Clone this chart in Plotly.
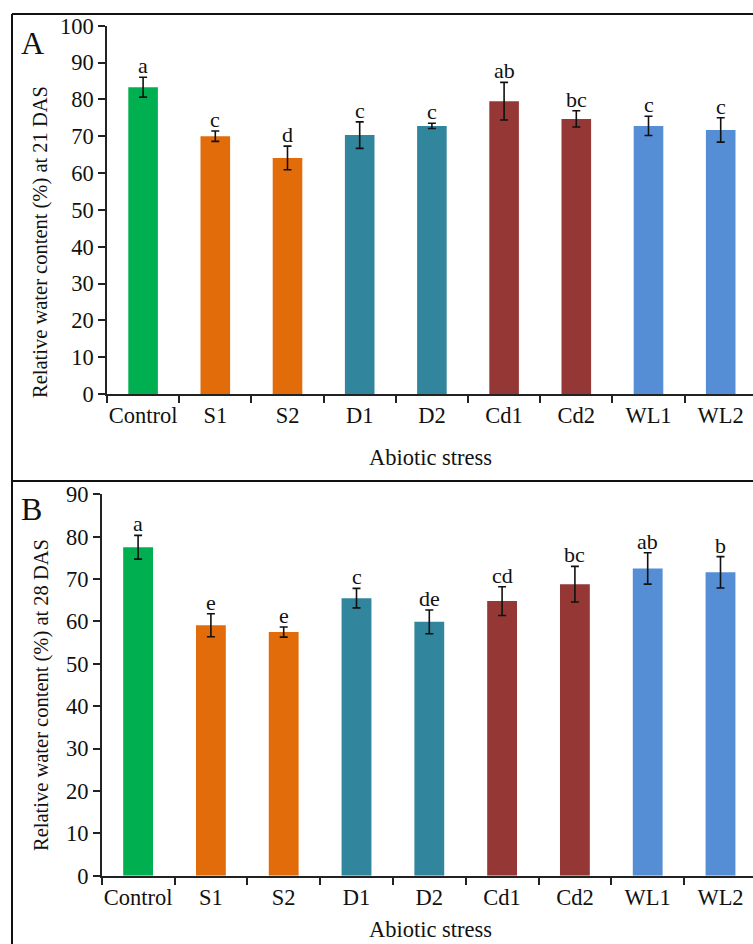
import plotly.graph_objects as go

# Treatments and their bar colours
treatments = ["Control", "S1", "S2", "D1", "D2", "Cd1", "Cd2", "WL1", "WL2"]
bar_colors = ["#00B050", "#E36C0A", "#E36C0A", "#31859C", "#31859C",
              "#953735", "#953735", "#558ED5", "#558ED5"]

# Relative water content at 21 DAS (mean, SE, significance letters)
rwc_21 = [83.3, 70.0, 64.1, 70.3, 72.8, 79.5, 74.7, 72.8, 71.7]
err_21 = [2.7, 1.4, 3.2, 3.6, 0.7, 5.1, 2.2, 2.6, 3.3]
sig_21 = ["a", "c", "d", "c", "c", "ab", "bc", "c", "c"]

# Relative water content at 28 DAS
rwc_28 = [77.5, 59.1, 57.5, 65.5, 59.9, 64.8, 68.8, 72.5, 71.6]
err_28 = [2.8, 2.7, 1.2, 2.3, 2.8, 3.4, 4.2, 3.7, 3.7]
sig_28 = ["a", "e", "e", "c", "de", "cd", "bc", "ab", "b"]

W, H = 753, 944
FONT = "Liberation Serif"
INK = "#111111"


def px_x(p):
    return p / W


def px_y(p):
    return 1 - p / H


fig = go.Figure()

panels = [
    dict(vals=rwc_21, errs=err_21, sig=sig_21, xa="x", ya="y",
         ymax=100, dtick=10, x0=107, top=25.7, bottom=394.0, cat_w=72.2,
         ytitle="Relative water content (%) at 21 DAS", tag="A",
         tag_y=42.5, ytitle_y=242, xtitle_y=457, box_top=14, box_bot=481),
    dict(vals=rwc_28, errs=err_28, sig=sig_28, xa="x2", ya="y2",
         ymax=90, dtick=10, x0=101.7, top=494.3, bottom=875.7, cat_w=72.8,
         ytitle="Relative water content (%) at 28 DAS", tag="B",
         tag_y=509, ytitle_y=695, xtitle_y=None, box_top=481, box_bot=None),
]

annotations = []
shapes = []


def frame_line(x0, y0, x1, y1):
    return dict(type="line", xref="paper", yref="paper",
                x0=px_x(x0), x1=px_x(x1), y0=px_y(y0), y1=px_y(y1),
                line=dict(color=INK, width=2))


for i, p in enumerate(panels):
    fig.add_trace(go.Bar(
        x=treatments, y=p["vals"], xaxis=p["xa"], yaxis=p["ya"],
        marker=dict(color=bar_colors, line=dict(width=0)),
        width=0.41,
        error_y=dict(type="data", array=p["errs"], visible=True,
                     color=INK, thickness=1.6, width=4),
        showlegend=False,
    ))
    suffix = "" if i == 0 else "2"
    right_end = (W - p["x0"]) / p["cat_w"] - 0.5
    fig.layout["xaxis" + suffix] = dict(
        domain=[px_x(p["x0"]), 1], anchor="y" + suffix,
        type="category", range=[-0.5, right_end], tickangle=0,
        automargin=False,
        showline=True, linecolor="#222222", linewidth=1.6,
        ticks="outside", ticklen=7, tickwidth=1.5, tickcolor="#222222",
        tickson="boundaries", showgrid=False, zeroline=False,
        tickfont=dict(family=FONT, size=22.5, color=INK),
    )
    fig.layout["yaxis" + suffix] = dict(
        domain=[px_y(p["bottom"]), px_y(p["top"])], anchor="x" + suffix,
        range=[0, p["ymax"]], dtick=p["dtick"], automargin=False,
        showline=True, linecolor="#222222", linewidth=1.6,
        ticks="outside", ticklen=7, tickwidth=1.5, tickcolor="#222222",
        showgrid=False, zeroline=False,
        tickfont=dict(family=FONT, size=22.5, color=INK),
    )
    # significance letters above each error bar
    for t, v, e, s in zip(treatments, p["vals"], p["errs"], p["sig"]):
        annotations.append(dict(
            x=t, y=v + e, xref=p["xa"], yref=p["ya"], text=s,
            showarrow=False, yanchor="bottom", yshift=-3,
            font=dict(family=FONT, size=22, color=INK),
        ))
    # axis titles and panel tag
    annotations.append(dict(
        x=px_x(41), y=px_y(p["ytitle_y"]), xref="paper", yref="paper",
        text=p["ytitle"], textangle=-90, showarrow=False,
        xanchor="center", yanchor="middle",
        font=dict(family=FONT, size=20.5, color=INK),
    ))
    if p["xtitle_y"] is not None:
        xt = dict(y=px_y(p["xtitle_y"]), yanchor="middle")
    else:
        xt = dict(y=0, yanchor="bottom")
    annotations.append(dict(
        x=px_x(430), xref="paper", yref="paper",
        text="Abiotic stress", showarrow=False, xanchor="center",
        font=dict(family=FONT, size=22.5, color=INK), **xt,
    ))
    annotations.append(dict(
        x=px_x(19), y=px_y(p["tag_y"]), xref="paper", yref="paper",
        text=p["tag"], showarrow=False, xanchor="left", yanchor="middle",
        font=dict(family=FONT, size=32, color=INK),
    ))
    # panel frame: top edge, left edge and (for A) bottom edge
    shapes.append(frame_line(12, p["box_top"], W, p["box_top"]))
    bot = p["box_bot"] if p["box_bot"] is not None else H
    shapes.append(frame_line(12, p["box_top"], 12, bot))
    if p["box_bot"] is not None:
        shapes.append(frame_line(12, bot, W, bot))

fig.update_layout(
    template="none",
    width=W, height=H,
    margin=dict(l=0, r=0, t=0, b=0, pad=0, autoexpand=False),
    paper_bgcolor="white", plot_bgcolor="white",
    annotations=annotations, shapes=shapes, bargap=0.59,
)

fig.write_html("out.html")
